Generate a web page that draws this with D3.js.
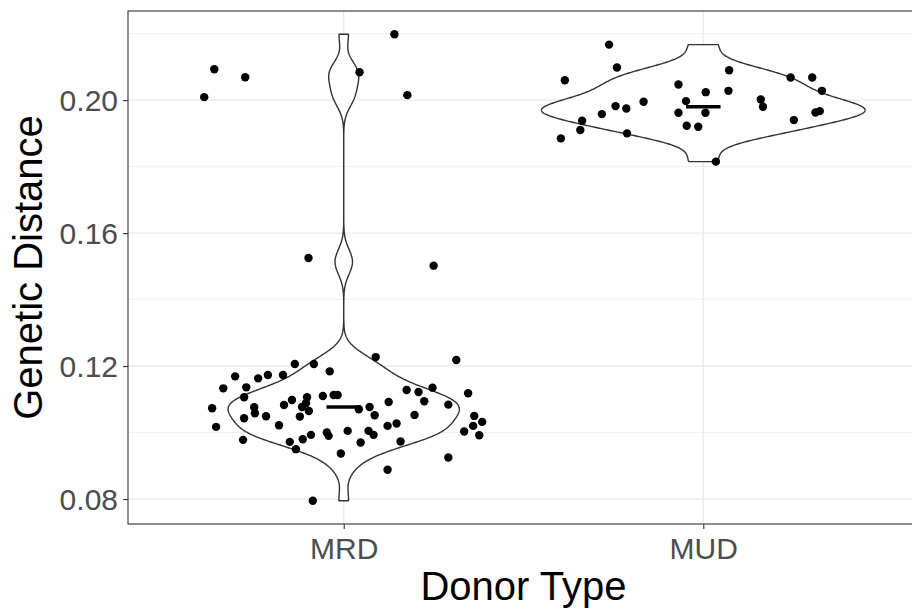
<!DOCTYPE html>
<html>
<head>
<meta charset="utf-8">
<script src="https://cdn.jsdelivr.net/npm/d3@7"></script>
<style>
  html, body { margin: 0; padding: 0; background: #ffffff; }
  svg { display: block; font-family: "Liberation Sans", Arial, Helvetica, sans-serif; }
</style>
</head>
<body>
<svg id="chart" width="912" height="609"></svg>
<script>
// Donor types on the x axis
const categories = ["MRD", "MUD"];

// Genetic distance per recipient, matched related donors
const mrdValues = [
  0.2093, 0.2069, 0.2009, 0.2198, 0.2084, 0.2015, 0.1525, 0.1502,
  0.1227, 0.1218, 0.1206, 0.1206, 0.1184, 0.1169, 0.1163, 0.1173, 0.1173,
  0.1133, 0.1136, 0.1106, 0.1073, 0.1017, 0.1043, 0.1076, 0.1058, 0.1049,
  0.1022, 0.0978, 0.1083, 0.1098, 0.1106, 0.1088, 0.1077, 0.1065, 0.1048,
  0.1110, 0.1113, 0.1113, 0.1070, 0.1077, 0.1052, 0.1092, 0.1128, 0.1122,
  0.1135, 0.1094, 0.1084, 0.1053, 0.1118, 0.1050, 0.1032, 0.1020, 0.1003,
  0.0992, 0.1020, 0.1027, 0.1005, 0.0993, 0.1005, 0.1000, 0.0990, 0.0993,
  0.0980, 0.0972, 0.0950, 0.0937, 0.0970, 0.0973, 0.0925, 0.0888, 0.0795
];
// Horizontal jitter of each MRD point, as a fraction of the category step
const mrdJitter = [
  -0.360, -0.274, -0.388, 0.141, 0.044, 0.177, -0.098, 0.250,
  0.089, 0.313, -0.136, -0.083, -0.039, -0.302, -0.238, -0.211, -0.169,
  -0.335, -0.271, -0.277, -0.366, -0.355, -0.277, -0.249, -0.247, -0.216,
  -0.180, -0.280, -0.166, -0.144, -0.102, -0.105, -0.116, -0.097, -0.122,
  -0.058, -0.028, -0.017, 0.042, 0.072, 0.086, 0.125, 0.175, 0.208,
  0.247, 0.224, 0.291, 0.197, 0.346, 0.363, 0.385, 0.360, 0.335,
  0.377, 0.122, 0.147, 0.069, 0.083, 0.011, -0.047, -0.042, -0.091,
  -0.114, -0.150, -0.133, -0.008, 0.047, 0.158, 0.291, 0.122, -0.086
];

// Genetic distance per recipient, matched unrelated donors
const mudValues = [
  0.2167, 0.2098, 0.2060, 0.2090, 0.2047, 0.2024, 0.2028, 0.2068, 0.2068,
  0.2028, 0.1997, 0.2002, 0.1980, 0.1995, 0.1982, 0.1975, 0.1958, 0.1962,
  0.1962, 0.1963, 0.1967, 0.1938, 0.1940, 0.1910, 0.1900, 0.1885, 0.1923,
  0.1920, 0.1815
];
const mudJitter = [
  -0.262, -0.240, -0.385, 0.072, -0.069, 0.007, 0.070, 0.243, 0.303,
  0.330, -0.048, 0.160, 0.166, -0.166, -0.244, -0.214, -0.282, -0.069,
  0.006, 0.312, 0.324, -0.337, 0.252, -0.342, -0.212, -0.396, -0.046,
  -0.014, 0.035
];

// Axis ticks
const yMajorTicks = [0.08, 0.12, 0.16, 0.20];
const yMinorTicks = [0.10, 0.14, 0.18, 0.22];

const xTitle = "Donor Type";
const yTitle = "Genetic Distance";

// ---------------------------------------------------------------
const groups = [
  { key: categories[0], values: mrdValues, jitter: mrdJitter },
  { key: categories[1], values: mudValues, jitter: mudJitter }
];

const panel = { left: 128, right: 919, top: 11, bottom: 524 };
const svg = d3.select("#chart");

// y scale with 5% expansion around the data range
const allValues = mrdValues.concat(mudValues);
const [vMin, vMax] = d3.extent(allValues);
const pad = (vMax - vMin) * 0.05;
const y = d3.scaleLinear()
  .domain([vMin - pad, vMax + pad])
  .range([panel.bottom, panel.top]);

// discrete x scale: 0.6 step of padding each side
const x = d3.scalePoint()
  .domain(categories)
  .range([panel.left, panel.right])
  .padding(0.6);
const step = x.step();

// Gaussian kernel density, bandwidth by Silverman's rule (nrd0)
function bwNrd0(vals) {
  const sorted = vals.slice().sort(d3.ascending);
  const sd = d3.deviation(sorted);
  const iqr = d3.quantileSorted(sorted, 0.75) - d3.quantileSorted(sorted, 0.25);
  let lo = Math.min(sd, iqr / 1.34);
  if (!(lo > 0)) lo = sd || Math.abs(sorted[0]) || 1;
  return 0.9 * lo * Math.pow(sorted.length, -0.2);
}
function density(vals, n) {
  const bw = bwNrd0(vals);
  const [lo, hi] = d3.extent(vals);
  const k = 1 / (Math.sqrt(2 * Math.PI) * bw * vals.length);
  return d3.range(n).map(i => {
    const t = lo + (hi - lo) * i / (n - 1);
    let s = 0;
    for (const v of vals) {
      const z = (t - v) / bw;
      s += Math.exp(-0.5 * z * z);
    }
    return { y: t, d: s * k };
  });
}

groups.forEach(g => {
  g.dens = density(g.values, 512);
  g.median = d3.median(g.values);
});
const maxDens = d3.max(groups, g => d3.max(g.dens, p => p.d));

// ---------------------------------------------------------------
// panel background and grid
svg.append("rect")
  .attr("x", panel.left).attr("y", panel.top)
  .attr("width", panel.right - panel.left)
  .attr("height", panel.bottom - panel.top)
  .attr("fill", "#ffffff");

const grid = svg.append("g");
grid.selectAll("line.minor")
  .data(yMinorTicks)
  .join("line")
  .attr("class", "minor")
  .attr("x1", panel.left).attr("x2", panel.right)
  .attr("y1", d => y(d)).attr("y2", d => y(d))
  .attr("stroke", "#EBEBEB").attr("stroke-width", 0.8);
grid.selectAll("line.major")
  .data(yMajorTicks)
  .join("line")
  .attr("class", "major")
  .attr("x1", panel.left).attr("x2", panel.right)
  .attr("y1", d => y(d)).attr("y2", d => y(d))
  .attr("stroke", "#EBEBEB").attr("stroke-width", 1.4);
grid.selectAll("line.vmajor")
  .data(categories)
  .join("line")
  .attr("class", "vmajor")
  .attr("x1", d => x(d)).attr("x2", d => x(d))
  .attr("y1", panel.top).attr("y2", panel.bottom)
  .attr("stroke", "#EBEBEB").attr("stroke-width", 1.4);

// violins (area-scaled, trimmed to the data range)
const halfMax = 0.45 * step;
groups.forEach(g => {
  const cx = x(g.key);
  const left = g.dens.map(p => [cx - halfMax * p.d / maxDens, y(p.y)]);
  const right = g.dens.slice().reverse().map(p => [cx + halfMax * p.d / maxDens, y(p.y)]);
  svg.append("path")
    .attr("d", d3.line()(left.concat(right)) + "Z")
    .attr("fill", "#ffffff")
    .attr("stroke", "#333333")
    .attr("stroke-width", 1.4)
    .attr("stroke-linejoin", "round");
});

// median markers
svg.append("g").selectAll("line")
  .data(groups)
  .join("line")
  .attr("x1", g => x(g.key) - 0.048 * step)
  .attr("x2", g => x(g.key) + 0.048 * step)
  .attr("y1", g => y(g.median))
  .attr("y2", g => y(g.median))
  .attr("stroke", "#000000")
  .attr("stroke-width", 3.5);

// jittered points
const points = [];
groups.forEach(g => g.values.forEach((v, i) => points.push({ key: g.key, v, j: g.jitter[i] })));
svg.append("g").selectAll("circle")
  .data(points)
  .join("circle")
  .attr("cx", d => x(d.key) + d.j * step)
  .attr("cy", d => y(d.v))
  .attr("r", 4.2)
  .attr("fill", "#000000");

// panel border
svg.append("rect")
  .attr("x", panel.left).attr("y", panel.top)
  .attr("width", panel.right - panel.left)
  .attr("height", panel.bottom - panel.top)
  .attr("fill", "none")
  .attr("stroke", "#333333")
  .attr("stroke-width", 1.1);

// axes
const yAxis = svg.append("g")
  .attr("transform", `translate(${panel.left},0)`)
  .call(d3.axisLeft(y).tickValues(yMajorTicks).tickFormat(d3.format(".2f"))
    .tickSize(5).tickPadding(5));
const xAxis = svg.append("g")
  .attr("transform", `translate(0,${panel.bottom})`)
  .call(d3.axisBottom(x).tickSize(5).tickPadding(8.5));

[yAxis, xAxis].forEach(ax => {
  ax.select(".domain").remove();
  ax.selectAll(".tick line").attr("stroke", "#333333").attr("stroke-width", 1.1);
  ax.selectAll(".tick text")
    .attr("fill", "#4D4D4D")
    .style("font-size", "30px")
    .style("font-family", "\"Liberation Sans\", Arial, Helvetica, sans-serif");
});
yAxis.selectAll(".tick text").attr("dy", "0.35em");

// axis titles
svg.append("text")
  .attr("x", (panel.left + panel.right) / 2)
  .attr("y", 600)
  .attr("text-anchor", "middle")
  .attr("fill", "#000000")
  .style("font-size", "40px")
  .text(xTitle);

svg.append("text")
  .attr("transform", `translate(42,${(panel.top + panel.bottom) / 2}) rotate(-90)`)
  .attr("text-anchor", "middle")
  .attr("fill", "#000000")
  .style("font-size", "40px")
  .text(yTitle);
</script>
</body>
</html>
